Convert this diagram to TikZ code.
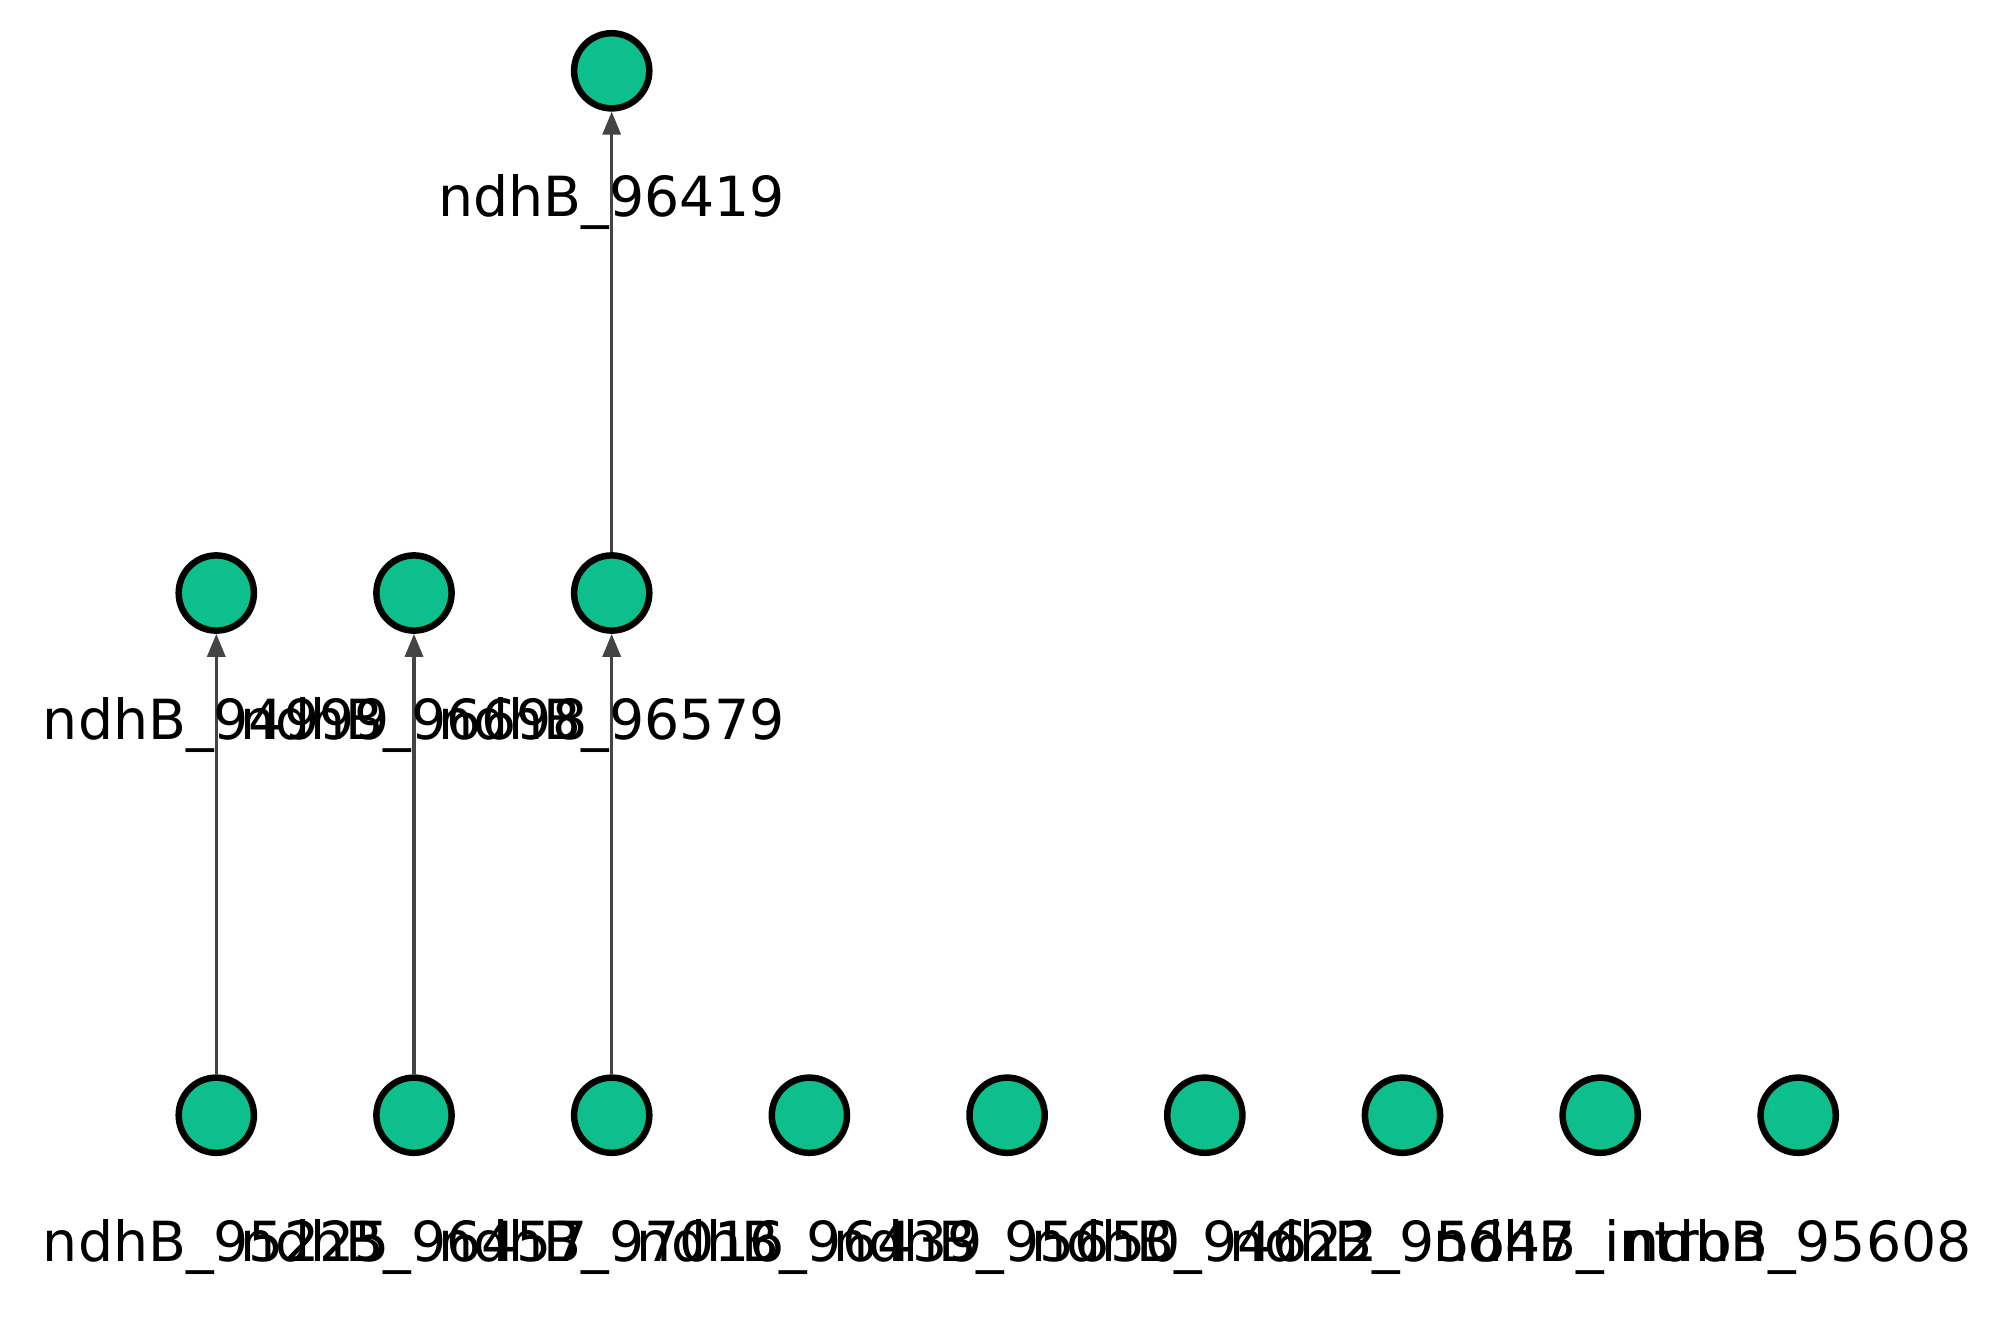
\documentclass[tikz,border=0pt]{standalone}
\usepackage{fontspec}
\setmainfont{DejaVu Sans}
\usetikzlibrary{arrows.meta}
\definecolor{nodegreen}{HTML}{0CBF8C}
\definecolor{edgegray}{HTML}{444444}
\tikzset{
  gnode/.style={circle, draw=black, line width=6.5pt, fill=nodegreen, minimum size=75.2pt, inner sep=0pt},
  glabel/.style={anchor=base, inner sep=0pt, font=\fontsize{55.3}{60}\selectfont, text=black},
  gedge/.style={draw=edgegray, line width=3.3pt, -{Triangle[length=23pt,width=18pt]}}
}
\begin{document}
\begin{tikzpicture}[x=1pt,y=-1pt]
\useasboundingbox (0,0) rectangle (2005,1326);
% bottom row
\node[gnode] (b1) at (216.3,1115.2) {};
\node[gnode] (b2) at (414.0,1115.2) {};
\node[gnode] (b3) at (611.7,1115.2) {};
\node[gnode] (b4) at (809.4,1115.2) {};
\node[gnode] (b5) at (1007.1,1115.2) {};
\node[gnode] (b6) at (1204.8,1115.2) {};
\node[gnode] (b7) at (1402.5,1115.2) {};
\node[gnode] (b8) at (1600.2,1115.2) {};
\node[gnode] (b9) at (1798.2,1115.2) {};
% middle row
\node[gnode] (m1) at (216.3,593.0) {};
\node[gnode] (m2) at (414.0,593.0) {};
\node[gnode] (m3) at (611.7,593.0) {};
% top
\node[gnode] (t1) at (611.7,70.8) {};
% edges
\draw[gedge] (b1) -- (m1);
\draw[gedge] (b2) -- (m2);
\draw[gedge] (b3) -- (m3);
\draw[gedge] (m3) -- (t1);
% labels
\node[glabel] (lb1) at (216.3,1261.2) {ndhB\_95225};
\node[glabel] (lb2) at (414.0,1261.2) {ndhB\_96457};
\node[glabel] (lb3) at (611.7,1261.2) {ndhB\_97016};
\node[glabel] (lb4) at (809.4,1261.2) {ndhB\_96439};
\node[glabel] (lb5) at (1007.1,1261.2) {ndhB\_95650};
\node[glabel] (lb6) at (1204.8,1261.2) {ndhB\_94622};
\node[glabel] (lb7) at (1402.5,1261.2) {ndhB\_95647};
\node[glabel] (lb8) at (1600.2,1261.2) {ndhB\_intron};
\node[glabel] (lb9) at (1798.2,1261.2) {ndhB\_95608};
\node[glabel] (lm1) at (216.3,739.0) {ndhB\_94999};
\node[glabel] (lm2) at (414.0,739.0) {ndhB\_96698};
\node[glabel] (lm3) at (611.7,739.0) {ndhB\_96579};
\node[glabel] (lt1) at (611.7,216.8) {ndhB\_96419};
\end{tikzpicture}
\end{document}
